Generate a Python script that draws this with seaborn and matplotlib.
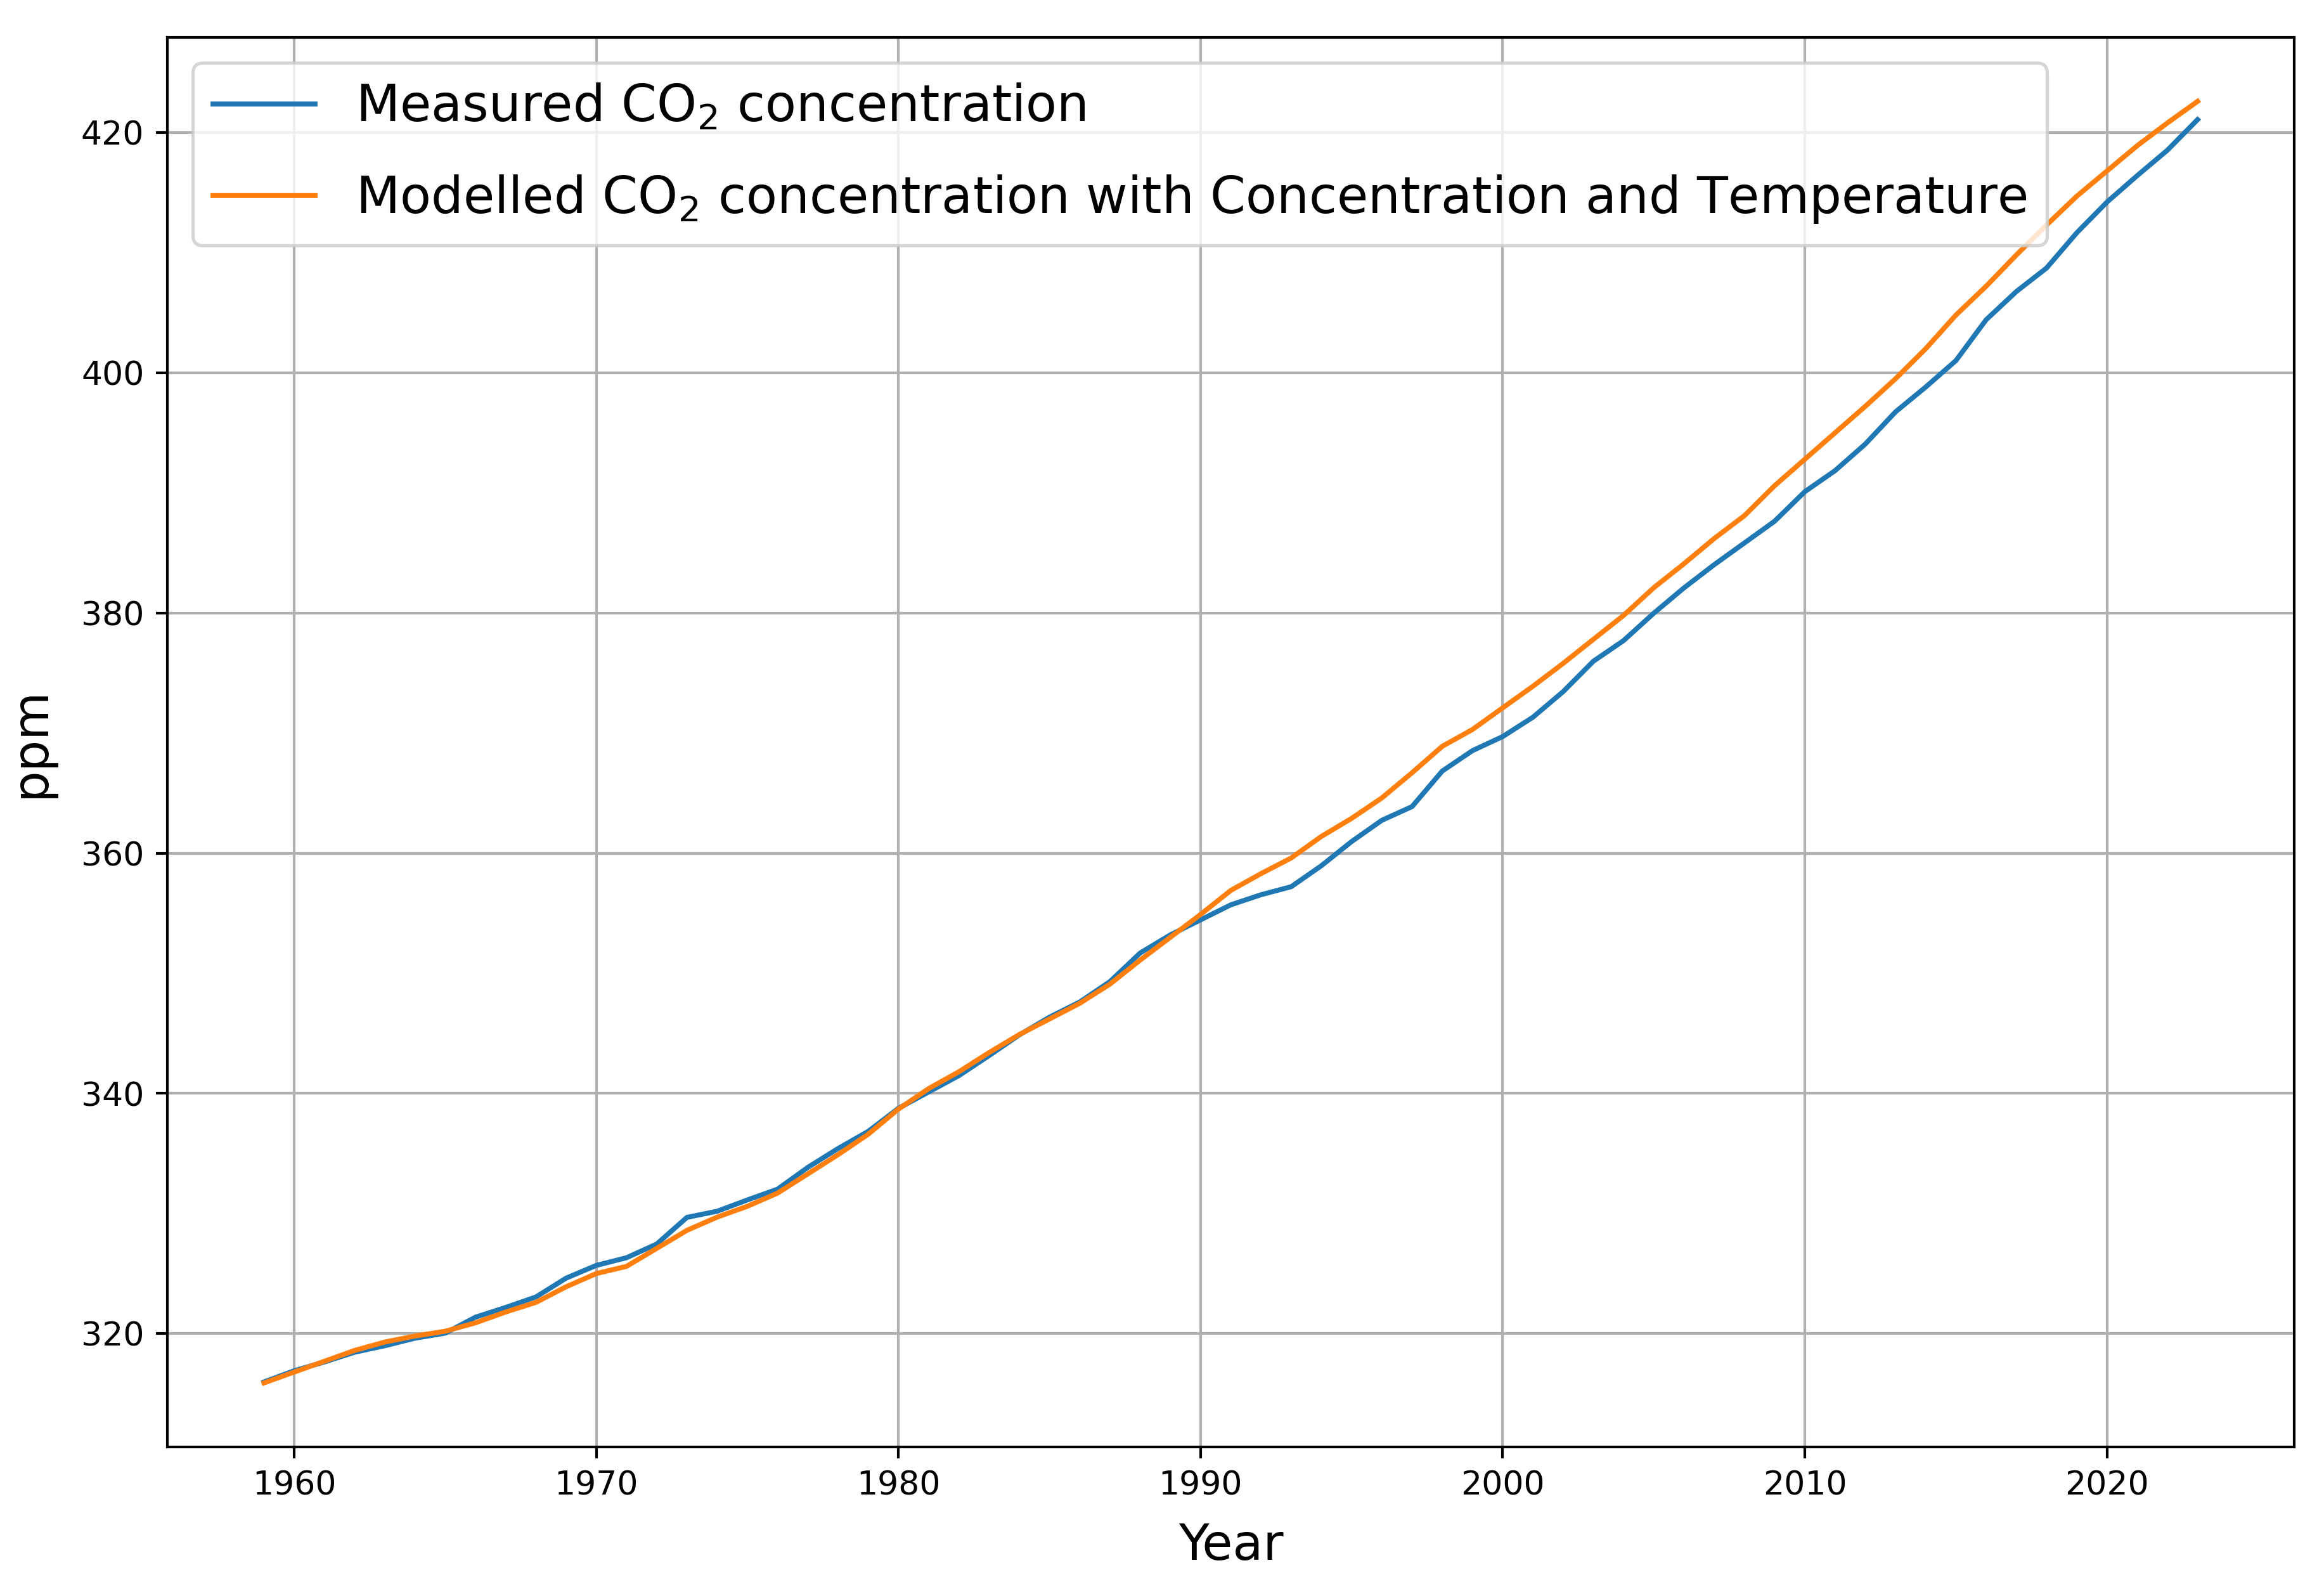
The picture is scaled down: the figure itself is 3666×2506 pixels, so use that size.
#!/usr/bin/env python3
"""Measured vs modelled atmospheric CO2 concentration."""

import pandas as pd
import matplotlib
matplotlib.use("Agg")
import matplotlib.pyplot as plt
import seaborn as sns

years = list(range(1959, 2024))

# Annual mean CO2 (ppm)
measured_ppm = [
    315.98, 316.91, 317.64, 318.45, 318.99, 319.62, 320.04, 321.37, 322.18, 323.05,
    324.62, 325.68, 326.32, 327.46, 329.68, 330.19, 331.13, 332.03, 333.84, 335.41,
    336.84, 338.76, 340.12, 341.48, 343.15, 344.87, 346.35, 347.61, 349.31, 351.69,
    353.20, 354.45, 355.70, 356.54, 357.21, 358.96, 360.97, 362.74, 363.88, 366.84,
    368.54, 369.71, 371.32, 373.45, 375.98, 377.70, 379.98, 382.09, 384.02, 385.83,
    387.64, 390.10, 391.85, 394.06, 396.74, 398.81, 401.01, 404.41, 406.76, 408.72,
    411.65, 414.21, 416.41, 418.53, 421.08,
]

modelled_ppm = [
    315.9, 316.8, 317.7, 318.6, 319.3, 319.8, 320.2, 320.9, 321.8, 322.6,
    323.9, 325.0, 325.6, 327.1, 328.6, 329.7, 330.6, 331.7, 333.3, 334.9,
    336.6, 338.7, 340.4, 341.8, 343.4, 344.9, 346.2, 347.5, 349.1, 351.1,
    353.0, 354.9, 356.9, 358.3, 359.6, 361.4, 362.9, 364.6, 366.7, 368.9,
    370.3, 372.1, 373.9, 375.8, 377.8, 379.8, 382.1, 384.1, 386.2, 388.1,
    390.6, 392.8, 395.0, 397.2, 399.5, 402.0, 404.8, 407.2, 409.8, 412.3,
    414.7, 416.8, 418.9, 420.8, 422.6,
]

labels = [
    "Measured CO$_2$ concentration",
    "Modelled CO$_2$ concentration with Concentration and Temperature",
]


def main():
    df = pd.DataFrame({"year": years, "measured": measured_ppm, "modelled": modelled_ppm})

    fig = plt.figure(figsize=(9.776, 6.683), dpi=375)
    fig.subplots_adjust(left=0.072, right=0.9872, top=0.9765, bottom=0.0894)
    ax = fig.add_subplot(111)

    sns.lineplot(data=df, x="year", y="measured", ax=ax, color="#1f77b4",
                 linewidth=1.5, label=labels[0])
    sns.lineplot(data=df, x="year", y="modelled", ax=ax, color="#ff7f0e",
                 linewidth=1.5, label=labels[1])

    ax.set_xlabel("Year", fontsize=15, labelpad=6)
    ax.set_ylabel("ppm", fontsize=15, labelpad=8)
    ax.tick_params(labelsize=10)
    ax.grid(True)
    ax.legend(loc="upper left", fontsize=15.4, labelspacing=0.8)

    fig.savefig("out.png", dpi=375)


if __name__ == "__main__":
    main()
